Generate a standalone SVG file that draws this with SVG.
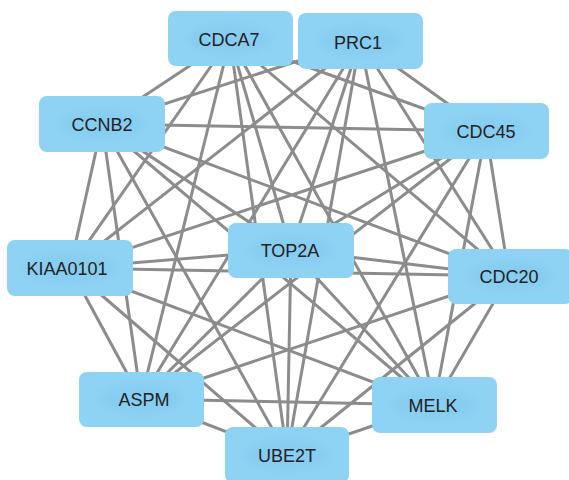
<svg xmlns="http://www.w3.org/2000/svg" width="569" height="480" viewBox="0 0 569 480">
  <style>
    .edge { stroke: #8c8c8c; stroke-width: 3; fill: none; }
    .box { fill: #8fd3f4; }
    .glow { fill: #86cdf1; filter: url(#soft); }
    .label { font-family: "Liberation Sans", Arial, sans-serif; font-size: 18px; fill: #222; text-anchor: middle; }
  </style>
  <defs>
    <filter id="soft" x="-30%" y="-50%" width="160%" height="200%">
      <feGaussianBlur stdDeviation="5"/>
    </filter>
  </defs>
  <rect width="569" height="480" fill="#ffffff"/>
  <g id="connectors">
    <!-- CDCA7 -->
    <line class="edge" x1="230" y1="39" x2="102" y2="124"/>
    <line class="edge" x1="230" y1="39" x2="486" y2="131"/>
    <line class="edge" x1="230" y1="39" x2="70" y2="268"/>
    <line class="edge" x1="230" y1="39" x2="291" y2="250"/>
    <line class="edge" x1="230" y1="39" x2="509" y2="276"/>
    <line class="edge" x1="230" y1="39" x2="141" y2="399"/>
    <line class="edge" x1="230" y1="39" x2="287" y2="455"/>
    <line class="edge" x1="230" y1="39" x2="434" y2="405"/>
    <!-- PRC1 -->
    <line class="edge" x1="360" y1="41" x2="102" y2="124"/>
    <line class="edge" x1="360" y1="41" x2="486" y2="131"/>
    <line class="edge" x1="360" y1="41" x2="70" y2="268"/>
    <line class="edge" x1="360" y1="41" x2="291" y2="250"/>
    <line class="edge" x1="360" y1="41" x2="509" y2="276"/>
    <line class="edge" x1="360" y1="41" x2="141" y2="399"/>
    <line class="edge" x1="360" y1="41" x2="287" y2="455"/>
    <line class="edge" x1="360" y1="41" x2="434" y2="405"/>
    <!-- CCNB2 -->
    <line class="edge" x1="102" y1="124" x2="486" y2="131"/>
    <line class="edge" x1="102" y1="124" x2="70" y2="268"/>
    <line class="edge" x1="102" y1="124" x2="291" y2="250"/>
    <line class="edge" x1="102" y1="124" x2="509" y2="276"/>
    <line class="edge" x1="102" y1="124" x2="141" y2="399"/>
    <line class="edge" x1="102" y1="124" x2="287" y2="455"/>
    <line class="edge" x1="102" y1="124" x2="434" y2="405"/>
    <!-- CDC45 -->
    <line class="edge" x1="486" y1="131" x2="70" y2="268"/>
    <line class="edge" x1="486" y1="131" x2="291" y2="250"/>
    <line class="edge" x1="486" y1="131" x2="509" y2="276"/>
    <line class="edge" x1="486" y1="131" x2="141" y2="399"/>
    <line class="edge" x1="486" y1="131" x2="287" y2="455"/>
    <line class="edge" x1="486" y1="131" x2="434" y2="405"/>
    <!-- KIAA0101 -->
    <line class="edge" x1="70" y1="268" x2="291" y2="250"/>
    <line class="edge" x1="70" y1="268" x2="509" y2="276"/>
    <line class="edge" x1="70" y1="268" x2="141" y2="399"/>
    <line class="edge" x1="70" y1="268" x2="287" y2="455"/>
    <line class="edge" x1="70" y1="268" x2="434" y2="405"/>
    <!-- TOP2A -->
    <line class="edge" x1="291" y1="250" x2="509" y2="276"/>
    <line class="edge" x1="291" y1="250" x2="141" y2="399"/>
    <line class="edge" x1="291" y1="250" x2="287" y2="455"/>
    <line class="edge" x1="291" y1="250" x2="434" y2="405"/>
    <!-- CDC20 -->
    <line class="edge" x1="509" y1="276" x2="141" y2="399"/>
    <line class="edge" x1="509" y1="276" x2="287" y2="455"/>
    <line class="edge" x1="509" y1="276" x2="434" y2="405"/>
    <!-- ASPM -->
    <line class="edge" x1="141" y1="399" x2="287" y2="455"/>
    <line class="edge" x1="141" y1="399" x2="434" y2="405"/>
    <!-- UBE2T -->
    <line class="edge" x1="287" y1="455" x2="434" y2="405"/>
  </g>
  <g id="node-CDCA7">
    <rect class="box" x="168" y="11" width="125" height="55" rx="8"/>
    <ellipse class="glow" cx="230" cy="39" rx="42" ry="15"/>
    <text class="label" x="229" y="45.5">CDCA7</text>
  </g>
  <g id="node-PRC1">
    <rect class="box" x="298" y="13" width="125" height="56" rx="8"/>
    <ellipse class="glow" cx="360" cy="41" rx="42" ry="15"/>
    <text class="label" x="358" y="48.5">PRC1</text>
  </g>
  <g id="node-CCNB2">
    <rect class="box" x="39" y="96" width="126" height="56" rx="8"/>
    <ellipse class="glow" cx="102" cy="124" rx="42" ry="15"/>
    <text class="label" x="102" y="130.5">CCNB2</text>
  </g>
  <g id="node-CDC45">
    <rect class="box" x="424" y="103" width="125" height="56" rx="8"/>
    <ellipse class="glow" cx="486" cy="131" rx="42" ry="15"/>
    <text class="label" x="486" y="137.5">CDC45</text>
  </g>
  <g id="node-KIAA0101">
    <rect class="box" x="7" y="240" width="126" height="56" rx="8"/>
    <ellipse class="glow" cx="70" cy="268" rx="46" ry="15"/>
    <text class="label" x="67" y="274.5">KIAA0101</text>
  </g>
  <g id="node-TOP2A">
    <rect class="box" x="228" y="223" width="126" height="55" rx="8"/>
    <ellipse class="glow" cx="291" cy="250" rx="42" ry="15"/>
    <text class="label" x="290" y="256.5">TOP2A</text>
  </g>
  <g id="node-CDC20">
    <rect class="box" x="448" y="249" width="125" height="55" rx="8"/>
    <ellipse class="glow" cx="510" cy="276" rx="42" ry="15"/>
    <text class="label" x="509" y="282.5">CDC20</text>
  </g>
  <g id="node-ASPM">
    <rect class="box" x="79" y="372" width="125" height="55" rx="8"/>
    <ellipse class="glow" cx="141" cy="399" rx="42" ry="15"/>
    <text class="label" x="144" y="405.5">ASPM</text>
  </g>
  <g id="node-UBE2T">
    <rect class="box" x="225" y="427" width="124" height="56" rx="8"/>
    <ellipse class="glow" cx="287" cy="455" rx="42" ry="15"/>
    <text class="label" x="287" y="461.5">UBE2T</text>
  </g>
  <g id="node-MELK">
    <rect class="box" x="372" y="377" width="125" height="56" rx="8"/>
    <ellipse class="glow" cx="434" cy="405" rx="42" ry="15"/>
    <text class="label" x="433" y="411.5">MELK</text>
  </g>
</svg>
